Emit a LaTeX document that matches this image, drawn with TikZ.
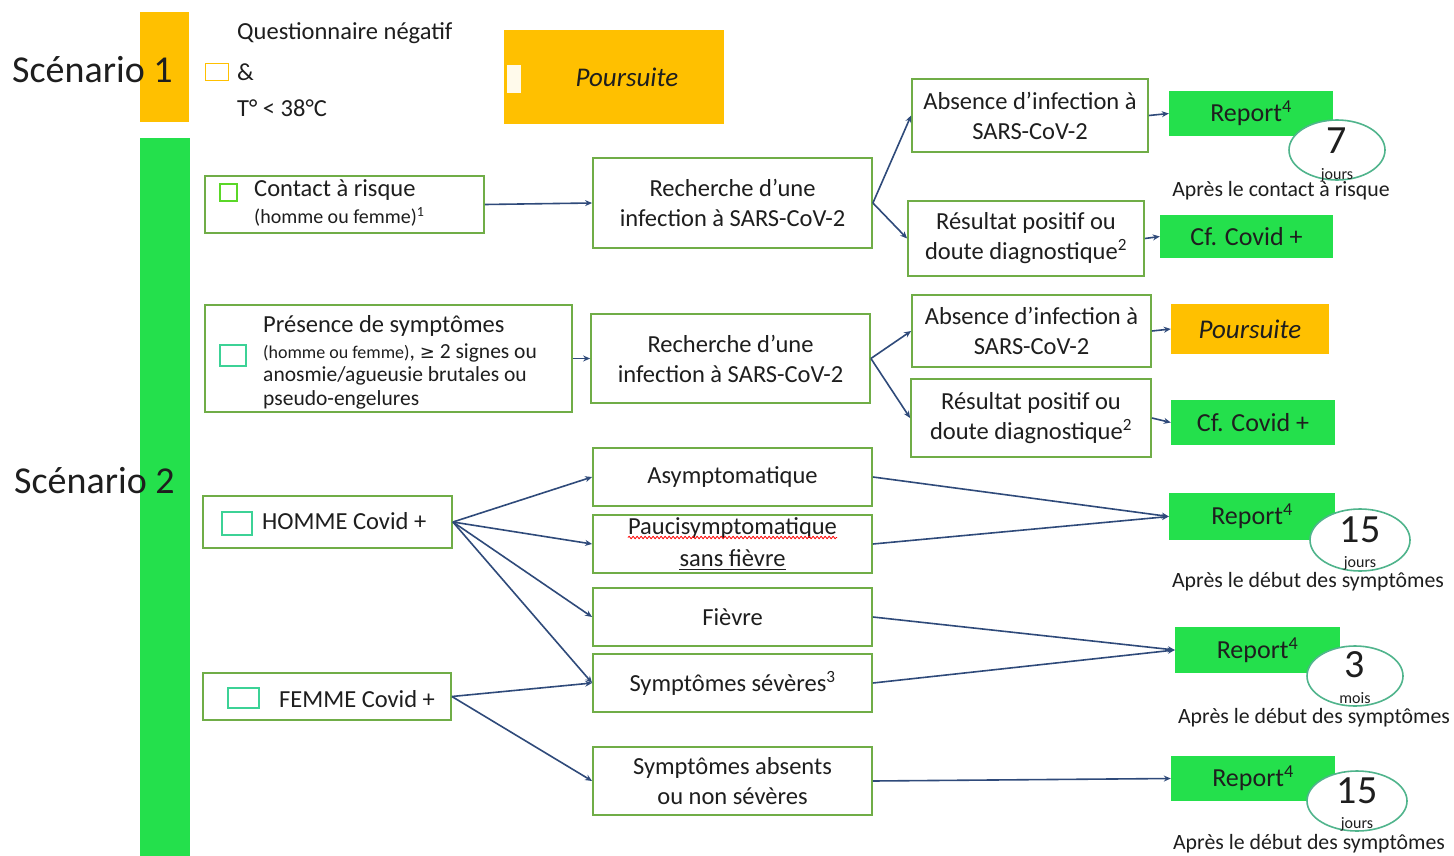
\documentclass[tikz,border=0pt]{standalone}
\usepackage{fontspec}
\setmainfont{Carlito}
\newfontfamily\symfont{DejaVu Sans}
\usetikzlibrary{arrows.meta,decorations.pathmorphing,shapes.geometric}
\definecolor{yel}{RGB}{255,192,0}
\definecolor{grn}{RGB}{36,224,76}
\definecolor{bord}{RGB}{112,173,71}
\definecolor{arr}{RGB}{47,74,122}
\definecolor{tealsq}{RGB}{60,210,150}
\definecolor{limesq}{RGB}{90,215,40}
\definecolor{ovl}{RGB}{80,180,140}
\definecolor{txt}{RGB}{30,30,30}
\newcommand{\fs}[2]{\fontsize{#1}{#2}\selectfont}
\tikzset{
  box/.style={draw=bord, line width=1.8pt, fill=white, align=center, text=txt, font=\fs{24.5}{30}, inner sep=0pt},
  gbox/.style={fill=grn, text=txt, font=\fs{26}{30}, inner sep=0pt},
  ybox/.style={fill=yel, text=txt, font=\fs{27}{31}\itshape, inner sep=0pt},
  conn/.style={draw=arr, line width=1.6pt, -{Stealth[length=7pt,width=6pt]}},
  oval/.style={ellipse, draw=ovl, line width=1.6pt, fill=white, inner sep=0pt},
  sq/.style={draw=#1, line width=1.6pt, fill=white, inner sep=0pt},
  lbl/.style={text=txt, inner sep=0pt},
  bignum/.style={text=txt, inner sep=0pt, font=\fs{40}{44}},
  unittxt/.style={text=txt, inner sep=0pt, font=\fs{16}{18}},
  captxt/.style={text=txt, inner sep=0pt, font=\fs{21.8}{26}},
}
\begin{document}
\begin{tikzpicture}[x=1pt,y=-1pt]
\useasboundingbox (0,0) rectangle (1454,856);
\fill[white] (0,0) rectangle (1454,856);

% Scenario bars
\fill[yel] (140,12) rectangle (189,122);
\fill[grn] (140,138) rectangle (190,856);
\node[lbl, anchor=west, font=\fs{38}{42}] (sc1) at (12,70) {Scénario 1};
\node[lbl, anchor=west, font=\fs{38}{42}] (sc2) at (14,481) {Scénario 2};

% Scenario 1
\node[lbl, anchor=west, font=\fs{24.5}{28}] (q1) at (237,33) {Questionnaire négatif};
\node[sq=yel, minimum width=23pt, minimum height=17pt] (sq1) at (217,72) {};
\node[lbl, anchor=west, font=\fs{24.5}{28}] (q2) at (237,72) {\&};
\node[lbl, anchor=west, font=\fs{24.5}{28}] (q3) at (237,108) {T° < 38°C};
\node[ybox, minimum width=220pt, minimum height=94pt] (pour1) at (614,77) {\hspace*{26pt}Poursuite};
\fill[white!92!yel] (507,65) rectangle (521,93);

% Contact a risque
\node[box, minimum width=279pt, minimum height=57pt] (contact) at (344.5,204.5) {};
\node[sq=limesq, minimum width=17pt, minimum height=17pt] (sqc) at (228.5,192.5) {};
\node[lbl, anchor=west, font=\fs{24.5}{28}] (c1) at (254,190) {Contact à risque};
\node[lbl, anchor=west, font=\fs{20}{24}] (c2) at (254,217) {(homme ou femme)\textsuperscript{1}};

\node[box, minimum width=279pt, minimum height=90pt] (rech1) at (732.5,203) {Recherche d’une\\infection à SARS-CoV-2};
\node[box, minimum width=236pt, minimum height=73pt] (abs1) at (1030,115.5) {Absence d’infection à\\SARS-CoV-2};
\node[box, minimum width=236pt, minimum height=75pt] (res1) at (1026,238.5) {Résultat positif ou\\doute diagnostique\textsuperscript{2}};
\node[gbox, minimum width=164pt, minimum height=45pt] (rep1) at (1251,113.5) {Report\textsuperscript{4}};
\node[gbox, minimum width=173pt, minimum height=43pt] (cf1) at (1246.5,236.5) {Cf. Covid +};
\node[oval, minimum width=96pt, minimum height=60pt] (e1) at (1337,150) {};
\node[bignum] (n1) at (1337,141) {7};
\node[unittxt] (u1) at (1337,175) {jours};
\node[captxt] (t1) at (1281,191) {Après le contact à risque};

% Presence de symptomes
\node[box, minimum width=367pt, minimum height=107pt] (pres) at (388.5,358.5) {};
\node[sq=tealsq, minimum width=26pt, minimum height=21pt] (sqp) at (233,355.5) {};
\node[lbl, anchor=west, font=\fs{24.5}{28}] (p1) at (263,326) {Présence de symptômes};
\node[lbl, anchor=west, font=\fs{21.5}{24}] (p2) at (263,353) {{\fs{18}{22}(homme ou femme)}, {\symfont\fs{18}{22}≥} 2 signes ou};
\node[lbl, anchor=west, font=\fs{21.5}{24}] (p3) at (263,376) {anosmie/agueusie brutales ou};
\node[lbl, anchor=west, font=\fs{21.5}{24}] (p4) at (263,400) {pseudo-engelures};

\node[box, minimum width=279pt, minimum height=89pt] (rech2) at (730.5,358.5) {Recherche d’une\\infection à SARS-CoV-2};
\node[box, minimum width=239pt, minimum height=72pt] (abs2) at (1031.5,331) {Absence d’infection à\\SARS-CoV-2};
\node[box, minimum width=240pt, minimum height=78pt] (res2) at (1031,418) {Résultat positif ou\\doute diagnostique\textsuperscript{2}};
\node[ybox, minimum width=158pt, minimum height=50pt] (pour2) at (1250,329) {Poursuite};
\node[gbox, minimum width=164pt, minimum height=45pt] (cf2) at (1253,422.5) {Cf. Covid +};

% Covid +
\node[box, minimum width=249pt, minimum height=52pt] (homme) at (327.5,522) {};
\node[sq=tealsq, minimum width=30pt, minimum height=23pt] (sqh) at (237,523.5) {};
\node[lbl, anchor=west, font=\fs{24.5}{28}] (h1) at (262,521) {HOMME Covid +};
\node[box, minimum width=248pt, minimum height=47pt] (femme) at (327,696.5) {};
\node[sq=tealsq, minimum width=31pt, minimum height=20pt] (sqf) at (243.5,698) {};
\node[lbl, anchor=west, font=\fs{24.5}{28}] (f1) at (279,699) {FEMME Covid +};

\node[box, minimum width=279pt, minimum height=58pt] (asym) at (732.5,477) {Asymptomatique};
\node[box, minimum width=279pt, minimum height=58pt] (pauci) at (732.5,544) {};
\node[lbl, font=\fs{24.5}{28}] (pa1) at (732.5,528) {Paucisymptomatique};
\node[lbl, font=\fs{24.5}{28}] (pa2) at (732.5,558) {sans fièvre};
\draw[red, line width=0.8pt, decorate, decoration={snake, amplitude=1.2pt, segment length=4pt}]
  ([yshift=-3pt]pa1.base west) -- ([yshift=-3pt]pa1.base east);
\draw[txt, line width=1pt] ([yshift=-3.5pt]pa2.base west) -- ([yshift=-3.5pt]pa2.base east);
\node[box, minimum width=279pt, minimum height=58pt] (fievre) at (732.5,617) {Fièvre};
\node[box, minimum width=279pt, minimum height=58pt] (severe) at (732.5,683) {Symptômes sévères\textsuperscript{3}};
\node[box, minimum width=279pt, minimum height=68pt] (absents) at (732.5,781) {Symptômes absents\\ou non sévères};

\node[gbox, minimum width=166pt, minimum height=47pt] (rep2) at (1252,516.5) {Report\textsuperscript{4}};
\node[oval, minimum width=100pt, minimum height=62pt] (e2) at (1360,540) {};
\node[bignum] (n2) at (1360,530) {15};
\node[unittxt] (u2) at (1360,563) {jours};
\node[captxt] (t2) at (1308,582) {Après le début des symptômes};

\node[gbox, minimum width=165pt, minimum height=46pt] (rep3) at (1257.5,650) {Report\textsuperscript{4}};
\node[oval, minimum width=96pt, minimum height=60pt] (e3) at (1355,676) {};
\node[bignum] (n3) at (1355,665) {3};
\node[unittxt] (u3) at (1355,698) {mois};
\node[captxt] (t3) at (1314,718) {Après le début des symptômes};

\node[gbox, minimum width=164pt, minimum height=45pt] (rep4) at (1253,778.5) {Report\textsuperscript{4}};
\node[oval, minimum width=100pt, minimum height=60pt] (e4) at (1357,801) {};
\node[bignum] (n4) at (1357,791) {15};
\node[unittxt] (u4) at (1357,824) {jours};
\node[captxt] (t4) at (1309,844) {Après le début des symptômes};

% Connectors
\draw[conn] (contact.east) -- (rech1.west);
\draw[conn] (rech1.east) -- (abs1.west);
\draw[conn] (rech1.east) -- (res1.west);
\draw[conn] (abs1.east) -- (rep1.west);
\draw[conn] (res1.east) -- (cf1.west);
\draw[conn] (pres.east) -- (rech2.west);
\draw[conn] (rech2.east) -- (abs2.west);
\draw[conn] (rech2.east) -- (res2.west);
\draw[conn] (abs2.east) -- (pour2.west);
\draw[conn] (res2.east) -- (cf2.west);
\draw[conn] (homme.east) -- (asym.west);
\draw[conn] (homme.east) -- (pauci.west);
\draw[conn] (homme.east) -- (fievre.west);
\draw[conn] (homme.east) -- (severe.west);
\draw[conn] (femme.east) -- (severe.west);
\draw[conn] (femme.east) -- (absents.west);
\draw[conn] (asym.east) -- (rep2.west);
\draw[conn] (pauci.east) -- (rep2.west);
\draw[conn] (fievre.east) -- (rep3.west);
\draw[conn] (severe.east) -- (rep3.west);
\draw[conn] (absents.east) -- (rep4.west);
\end{tikzpicture}
\end{document}
